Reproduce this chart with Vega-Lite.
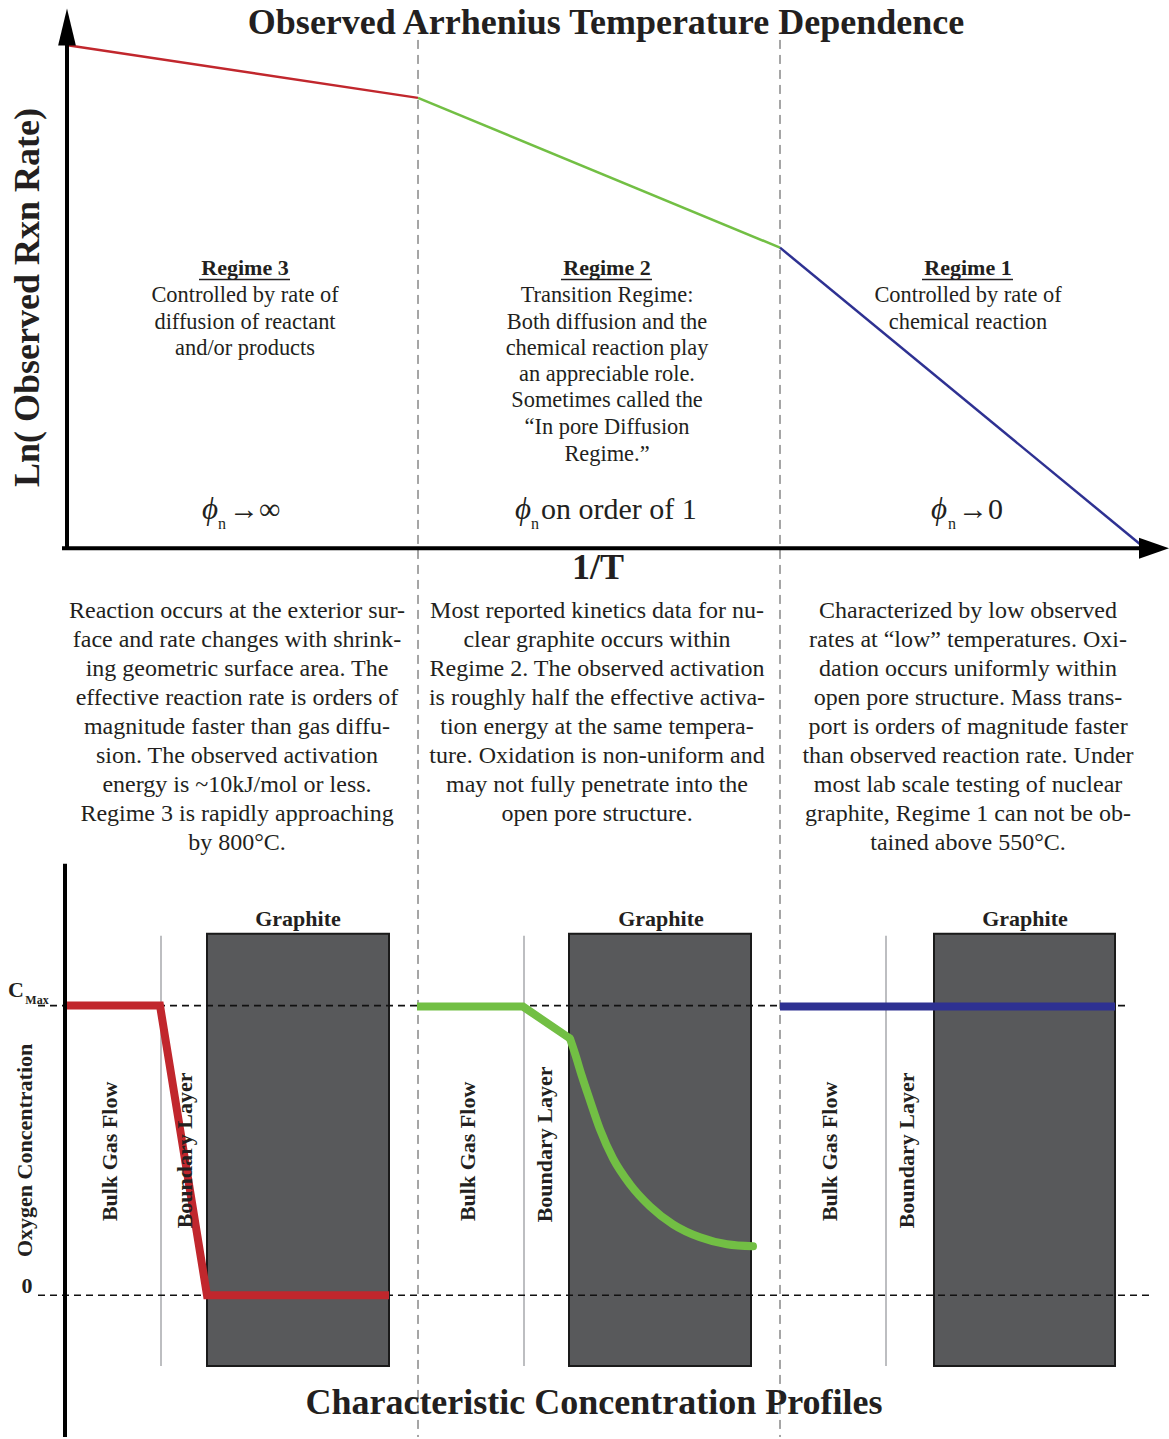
{
  "$schema": "https://vega.github.io/schema/vega-lite/v6.json",
  "width": 1169,
  "height": 1439,
  "autosize": {"type": "fit", "contains": "padding"},
  "padding": 0,
  "background": "white",
  "config": {"view": {"stroke": null}, "axis": {"disable": true}, "legend": {"disable": true}},
  "datasets": {
    "div": [{"x": 418, "y": 40, "y2": 1439}, {"x": 780, "y": 40, "y2": 1439}],
    "curves": [
      {"reg": "Regime 3", "o": 1, "x": 66, "y": 45},
      {"reg": "Regime 3", "o": 2, "x": 418, "y": 98},
      {"reg": "Regime 2", "o": 1, "x": 418, "y": 98},
      {"reg": "Regime 2", "o": 2, "x": 780, "y": 248},
      {"reg": "Regime 1", "o": 1, "x": 780, "y": 248},
      {"reg": "Regime 1", "o": 2, "x": 1145, "y": 549}
    ],
    "axes": [
      {"x": 67, "x2": 67, "y": 40, "y2": 550},
      {"x": 62, "x2": 1146, "y": 549, "y2": 549},
      {"x": 65, "x2": 65, "y": 865, "y2": 1439}
    ],
    "arrowUp": [{"x": 67, "y": 27}],
    "arrowRight": [{"x": 1154, "y": 549}],
    "rects": [
      {"x": 207, "x2": 389, "y": 935, "y2": 1368},
      {"x": 569, "x2": 751, "y": 935, "y2": 1368},
      {"x": 934, "x2": 1115, "y": 935, "y2": 1368}
    ],
    "thin": [{"x": 161, "y": 937, "y2": 1368}, {"x": 524, "y": 937, "y2": 1368}, {"x": 886, "y": 937, "y2": 1368}],
    "hdash": [{"x": 38, "x2": 1130, "y": 1007}, {"x": 38, "x2": 1150, "y": 1297}],
    "profiles": [
      {"reg": "Regime 3", "o": 1, "x": 63, "y": 1007},
      {"reg": "Regime 3", "o": 2, "x": 160, "y": 1007},
      {"reg": "Regime 3", "o": 3, "x": 207, "y": 1297},
      {"reg": "Regime 3", "o": 4, "x": 389, "y": 1297},
      {"reg": "Regime 2", "o": 1, "x": 417, "y": 1008},
      {"reg": "Regime 2", "o": 2, "x": 523, "y": 1008},
      {"reg": "Regime 2", "o": 3, "x": 570, "y": 1040},
      {"reg": "Regime 1", "o": 1, "x": 780, "y": 1008},
      {"reg": "Regime 1", "o": 2, "x": 1115, "y": 1008}
    ],
    "greenCurve": [
      {"reg": "Regime 2", "x": 570, "y": 1040},
      {"reg": "Regime 2", "x": 575, "y": 1055},
      {"reg": "Regime 2", "x": 581.7, "y": 1077},
      {"reg": "Regime 2", "x": 590, "y": 1102},
      {"reg": "Regime 2", "x": 600, "y": 1131},
      {"reg": "Regime 2", "x": 613, "y": 1160},
      {"reg": "Regime 2", "x": 630, "y": 1186},
      {"reg": "Regime 2", "x": 650, "y": 1208},
      {"reg": "Regime 2", "x": 673, "y": 1226},
      {"reg": "Regime 2", "x": 700, "y": 1239},
      {"reg": "Regime 2", "x": 727, "y": 1246},
      {"reg": "Regime 2", "x": 753, "y": 1248}
    ],
    "underline": [{"x": 199, "x2": 290, "y": 280}, {"x": 561, "x2": 652, "y": 280}, {"x": 922, "x2": 1013, "y": 280}],
    "bigTitles": [
      {"x": 606, "y": 23, "t": "Observed Arrhenius Temperature Dependence"},
      {"x": 598, "y": 569, "t": "1/T"},
      {"x": 594, "y": 1405, "t": "Characteristic Concentration Profiles"}
    ],
    "ylab": [{"x": 28, "y": 298, "t": "Ln( Observed Rxn Rate)"}],
    "regHead": [
      {"x": 245, "y": 268, "t": "Regime 3"},
      {"x": 607, "y": 268, "t": "Regime 2"},
      {"x": 968, "y": 268, "t": "Regime 1"}
    ],
    "regBody": [
      {"x": 245, "y": 295, "t": "Controlled by rate of"},
      {"x": 245, "y": 322, "t": "diffusion of reactant"},
      {"x": 245, "y": 348, "t": "and/or products"},
      {"x": 607, "y": 295, "t": "Transition Regime:"},
      {"x": 607, "y": 322, "t": "Both diffusion and the"},
      {"x": 607, "y": 348, "t": "chemical reaction play"},
      {"x": 607, "y": 375, "t": "an appreciable role."},
      {"x": 607, "y": 401, "t": "Sometimes called the"},
      {"x": 607, "y": 428, "t": "“In pore Diffusion"},
      {"x": 607, "y": 455, "t": "Regime.”"},
      {"x": 968, "y": 295, "t": "Controlled by rate of"},
      {"x": 968, "y": 322, "t": "chemical reaction"}
    ],
    "phi": [{"x": 210, "y": 511, "t": "ϕ"}, {"x": 523, "y": 511, "t": "ϕ"}, {"x": 939, "y": 511, "t": "ϕ"}],
    "sub": [{"x": 222, "y": 525, "t": "n"}, {"x": 535, "y": 525, "t": "n"}, {"x": 952, "y": 525, "t": "n"}],
    "phiRest": [{"x": 229, "y": 511, "t": "→∞"}, {"x": 541, "y": 511, "t": "on order of 1"}, {"x": 958, "y": 511, "t": "→0"}],
    "para": [
      {"x": 237, "y": 612, "t": "Reaction occurs at the exterior sur-"},
      {"x": 237, "y": 641, "t": "face and rate changes with shrink-"},
      {"x": 237, "y": 670, "t": "ing geometric surface area. The"},
      {"x": 237, "y": 699, "t": "effective reaction rate is orders of"},
      {"x": 237, "y": 728, "t": "magnitude faster than gas diffu-"},
      {"x": 237, "y": 757, "t": "sion.  The observed activation"},
      {"x": 237, "y": 786, "t": "energy is ~10kJ/mol or less."},
      {"x": 237, "y": 815, "t": "Regime 3 is rapidly approaching"},
      {"x": 237, "y": 844, "t": "by 800°C."},
      {"x": 597, "y": 612, "t": "Most reported kinetics data for nu-"},
      {"x": 597, "y": 641, "t": "clear graphite occurs within"},
      {"x": 597, "y": 670, "t": "Regime 2. The observed activation"},
      {"x": 597, "y": 699, "t": "is roughly half the effective activa-"},
      {"x": 597, "y": 728, "t": "tion energy at the same tempera-"},
      {"x": 597, "y": 757, "t": "ture. Oxidation is non-uniform and"},
      {"x": 597, "y": 786, "t": "may not fully penetrate into the"},
      {"x": 597, "y": 815, "t": "open pore structure."},
      {"x": 968, "y": 612, "t": "Characterized by low observed"},
      {"x": 968, "y": 641, "t": "rates at “low” temperatures. Oxi-"},
      {"x": 968, "y": 670, "t": "dation occurs uniformly within"},
      {"x": 968, "y": 699, "t": "open pore structure. Mass trans-"},
      {"x": 968, "y": 728, "t": "port is orders of magnitude faster"},
      {"x": 968, "y": 757, "t": "than observed reaction rate. Under"},
      {"x": 968, "y": 786, "t": "most lab scale testing of nuclear"},
      {"x": 968, "y": 815, "t": "graphite, Regime 1 can not be ob-"},
      {"x": 968, "y": 844, "t": "tained above 550°C."}
    ],
    "graphite": [{"x": 298, "y": 920, "t": "Graphite"}, {"x": 661, "y": 920, "t": "Graphite"}, {"x": 1025, "y": 920, "t": "Graphite"}],
    "vlabels": [
      {"x": 110, "y": 1153, "t": "Bulk Gas Flow"},
      {"x": 185, "y": 1152, "t": "Boundary Layer"},
      {"x": 468, "y": 1153, "t": "Bulk Gas Flow"},
      {"x": 545, "y": 1146, "t": "Boundary Layer"},
      {"x": 830, "y": 1153, "t": "Bulk Gas Flow"},
      {"x": 907, "y": 1152, "t": "Boundary Layer"},
      {"x": 25, "y": 1152, "t": "Oxygen Concentration"}
    ],
    "cLab": [{"x": 16, "y": 991, "t": "C"}, {"x": 27, "y": 1288, "t": "0"}],
    "maxLab": [{"x": 37, "y": 1001, "t": "Max"}]
  },
  "layer": [
    {
      "data": {"name": "rects"},
      "mark": {"type": "rect", "fill": "#58595b", "stroke": "#1a1a1a", "strokeWidth": 2},
      "encoding": {
        "x": {"field": "x", "type": "quantitative", "scale": {"domain": [0, 1169], "nice": false, "zero": false}},
        "x2": {"field": "x2"},
        "y": {"field": "y", "type": "quantitative", "scale": {"domain": [0, 1439], "nice": false, "zero": false, "reverse": true}},
        "y2": {"field": "y2"}
      }
    },
    {
      "data": {"name": "div"},
      "mark": {"type": "rule", "stroke": "#4d4d4d", "strokeWidth": 1, "strokeDash": [9, 6]},
      "encoding": {
        "x": {"field": "x", "type": "quantitative"},
        "y": {"field": "y", "type": "quantitative"},
        "y2": {"field": "y2"}
      }
    },
    {
      "data": {"name": "thin"},
      "mark": {"type": "rule", "stroke": "#a7a9ac", "strokeWidth": 1.5},
      "encoding": {
        "x": {"field": "x", "type": "quantitative"},
        "y": {"field": "y", "type": "quantitative"},
        "y2": {"field": "y2"}
      }
    },
    {
      "data": {"name": "hdash"},
      "mark": {"type": "rule", "stroke": "#111111", "strokeWidth": 1.6, "strokeDash": [7, 5]},
      "encoding": {
        "x": {"field": "x", "type": "quantitative"},
        "x2": {"field": "x2"},
        "y": {"field": "y", "type": "quantitative"}
      }
    },
    {
      "data": {"name": "curves"},
      "mark": {"type": "line", "strokeWidth": 2.5},
      "encoding": {
        "x": {"field": "x", "type": "quantitative"},
        "y": {"field": "y", "type": "quantitative"},
        "detail": {"field": "reg"},
        "order": {"field": "o"},
        "color": {"field": "reg", "type": "nominal", "scale": {"domain": ["Regime 3", "Regime 2", "Regime 1"], "range": ["#c1272d", "#72bf44", "#2e3192"]}}
      }
    },
    {
      "data": {"name": "profiles"},
      "mark": {"type": "line", "strokeWidth": 8, "strokeJoin": "miter"},
      "encoding": {
        "x": {"field": "x", "type": "quantitative"},
        "y": {"field": "y", "type": "quantitative"},
        "detail": {"field": "reg"},
        "order": {"field": "o"},
        "color": {"field": "reg", "type": "nominal"}
      }
    },
    {
      "data": {"name": "greenCurve"},
      "mark": {"type": "line", "strokeWidth": 8, "interpolate": "monotone", "strokeCap": "round"},
      "encoding": {
        "x": {"field": "x", "type": "quantitative"},
        "y": {"field": "y", "type": "quantitative"},
        "color": {"field": "reg", "type": "nominal"}
      }
    },
    {
      "data": {"name": "axes"},
      "mark": {"type": "rule", "stroke": "#000000", "strokeWidth": 4},
      "encoding": {
        "x": {"field": "x", "type": "quantitative"},
        "x2": {"field": "x2"},
        "y": {"field": "y", "type": "quantitative"},
        "y2": {"field": "y2"}
      }
    },
    {
      "data": {"name": "arrowUp"},
      "mark": {"type": "point", "shape": "M0,-1L-0.48,1L0.48,1Z", "filled": true, "fill": "#000000", "opacity": 1, "size": 1369, "strokeWidth": 0},
      "encoding": {
        "x": {"field": "x", "type": "quantitative"},
        "y": {"field": "y", "type": "quantitative"}
      }
    },
    {
      "data": {"name": "arrowRight"},
      "mark": {"type": "point", "shape": "M1,0L-1,-0.7L-1,0.7Z", "filled": true, "fill": "#000000", "opacity": 1, "size": 900, "strokeWidth": 0},
      "encoding": {
        "x": {"field": "x", "type": "quantitative"},
        "y": {"field": "y", "type": "quantitative"}
      }
    },
    {
      "data": {"name": "underline"},
      "mark": {"type": "rule", "stroke": "#231f20", "strokeWidth": 1.5},
      "encoding": {
        "x": {"field": "x", "type": "quantitative"},
        "x2": {"field": "x2"},
        "y": {"field": "y", "type": "quantitative"}
      }
    },
    {
      "data": {"name": "bigTitles"},
      "mark": {"type": "text", "font": "Liberation Serif", "fontWeight": "bold", "fontSize": 36, "fill": "#231f20", "align": "center", "baseline": "middle"},
      "encoding": {
        "x": {"field": "x", "type": "quantitative"},
        "y": {"field": "y", "type": "quantitative"},
        "text": {"field": "t"}
      }
    },
    {
      "data": {"name": "ylab"},
      "mark": {"type": "text", "font": "Liberation Serif", "fontWeight": "bold", "fontSize": 36, "fill": "#231f20", "align": "center", "baseline": "middle", "angle": 270},
      "encoding": {
        "x": {"field": "x", "type": "quantitative"},
        "y": {"field": "y", "type": "quantitative"},
        "text": {"field": "t"}
      }
    },
    {
      "data": {"name": "regHead"},
      "mark": {"type": "text", "font": "Liberation Serif", "fontWeight": "bold", "fontSize": 22, "fill": "#231f20", "align": "center", "baseline": "middle"},
      "encoding": {
        "x": {"field": "x", "type": "quantitative"},
        "y": {"field": "y", "type": "quantitative"},
        "text": {"field": "t"}
      }
    },
    {
      "data": {"name": "regBody"},
      "mark": {"type": "text", "font": "Liberation Serif", "fontSize": 22.4, "fill": "#231f20", "align": "center", "baseline": "middle"},
      "encoding": {
        "x": {"field": "x", "type": "quantitative"},
        "y": {"field": "y", "type": "quantitative"},
        "text": {"field": "t"}
      }
    },
    {
      "data": {"name": "phi"},
      "mark": {"type": "text", "font": "Liberation Serif", "fontStyle": "italic", "fontSize": 31, "fill": "#231f20", "align": "center", "baseline": "middle"},
      "encoding": {
        "x": {"field": "x", "type": "quantitative"},
        "y": {"field": "y", "type": "quantitative"},
        "text": {"field": "t"}
      }
    },
    {
      "data": {"name": "sub"},
      "mark": {"type": "text", "font": "Liberation Serif", "fontSize": 16, "fill": "#231f20", "align": "center", "baseline": "middle"},
      "encoding": {
        "x": {"field": "x", "type": "quantitative"},
        "y": {"field": "y", "type": "quantitative"},
        "text": {"field": "t"}
      }
    },
    {
      "data": {"name": "phiRest"},
      "mark": {"type": "text", "font": "Liberation Serif", "fontSize": 30, "fill": "#231f20", "align": "left", "baseline": "middle"},
      "encoding": {
        "x": {"field": "x", "type": "quantitative"},
        "y": {"field": "y", "type": "quantitative"},
        "text": {"field": "t"}
      }
    },
    {
      "data": {"name": "para"},
      "mark": {"type": "text", "font": "Liberation Serif", "fontSize": 24, "fill": "#231f20", "align": "center", "baseline": "middle"},
      "encoding": {
        "x": {"field": "x", "type": "quantitative"},
        "y": {"field": "y", "type": "quantitative"},
        "text": {"field": "t"}
      }
    },
    {
      "data": {"name": "graphite"},
      "mark": {"type": "text", "font": "Liberation Serif", "fontWeight": "bold", "fontSize": 22, "fill": "#231f20", "align": "center", "baseline": "middle"},
      "encoding": {
        "x": {"field": "x", "type": "quantitative"},
        "y": {"field": "y", "type": "quantitative"},
        "text": {"field": "t"}
      }
    },
    {
      "data": {"name": "vlabels"},
      "mark": {"type": "text", "font": "Liberation Serif", "fontWeight": "bold", "fontSize": 22, "fill": "#231f20", "align": "center", "baseline": "middle", "angle": 270},
      "encoding": {
        "x": {"field": "x", "type": "quantitative"},
        "y": {"field": "y", "type": "quantitative"},
        "text": {"field": "t"}
      }
    },
    {
      "data": {"name": "cLab"},
      "mark": {"type": "text", "font": "Liberation Serif", "fontWeight": "bold", "fontSize": 22, "fill": "#231f20", "align": "center", "baseline": "middle"},
      "encoding": {
        "x": {"field": "x", "type": "quantitative"},
        "y": {"field": "y", "type": "quantitative"},
        "text": {"field": "t"}
      }
    },
    {
      "data": {"name": "maxLab"},
      "mark": {"type": "text", "font": "Liberation Serif", "fontWeight": "bold", "fontSize": 12, "fill": "#231f20", "align": "center", "baseline": "middle"},
      "encoding": {
        "x": {"field": "x", "type": "quantitative"},
        "y": {"field": "y", "type": "quantitative"},
        "text": {"field": "t"}
      }
    }
  ]
}
